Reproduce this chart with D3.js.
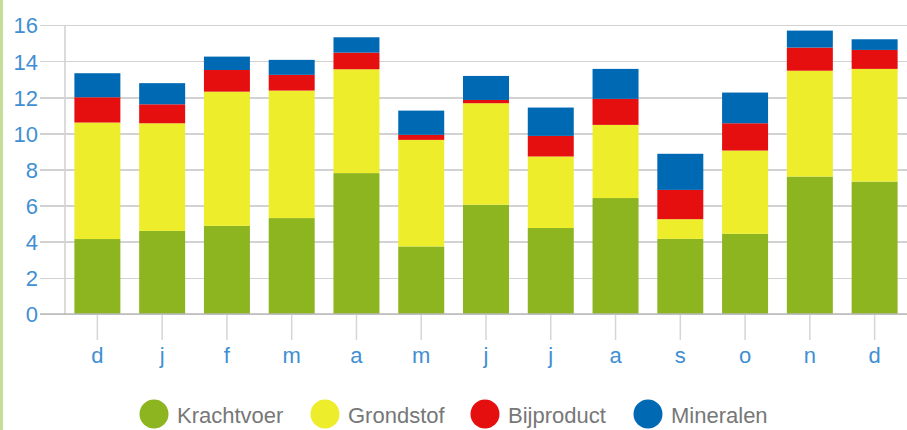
<!DOCTYPE html>
<meta charset="utf-8">
<script src="https://cdn.jsdelivr.net/npm/d3@7"></script>
<style>
    body { margin: 0; background: #fff; }
    text { font-family: "Liberation Sans", Arial, sans-serif; }
    .grid line { stroke: #d2d2d2; stroke-width: 1.6; shape-rendering: crispEdges; }
    .grid path { display: none; }
    .ylab text, .xlab text { fill: #3f8fd2; font-size: 22px; }
    .xlab path { display: none; }
    .xlab line { stroke: #d6d6d6; stroke-width: 1.5; }
</style>
<body>
<div id="chart"></div>
<script>

    var months = ["d", "j", "f", "m", "a", "m", "j", "j", "a", "s", "o", "n", "d"]
    var krachtvoer = [4.15, 4.6, 4.88, 5.31, 7.8, 3.74, 6.05, 4.76, 6.42, 4.16, 4.44, 7.61, 7.33]
    var grondstof  = [6.45, 5.96, 7.43, 7.06, 5.75, 5.9, 5.62, 3.96, 4.05, 1.09, 4.61, 5.86, 6.24]
    var bijproduct = [1.4, 1.05, 1.2, 0.87, 0.92, 0.28, 0.18, 1.14, 1.44, 1.62, 1.51, 1.28, 1.05]
    var mineralen  = [1.33, 1.17, 0.74, 0.83, 0.85, 1.34, 1.33, 1.57, 1.66, 2.0, 1.7, 0.94, 0.59]
    var yTicks = [0, 2, 4, 6, 8, 10, 12, 14, 16]

    var seriesNames = ["Krachtvoer", "Grondstof", "Bijproduct", "Mineralen"]
    var colors = ["#8cb520", "#eded2b", "#e60f0f", "#0069b4"]

    var W = 907, H = 430
    var padL = 65, padR = 907, padT = 25, padB = 314

    // one row per month, keys = series
    var rows = months.map((m, i) => ({
        idx: i,
        Krachtvoer: krachtvoer[i],
        Grondstof: grondstof[i],
        Bijproduct: bijproduct[i],
        Mineralen: mineralen[i]
    }))
    var stacked = d3.stack().keys(seriesNames)(rows)

    var x = d3.scaleBand().domain(d3.range(months.length)).range([padL, padR]).paddingInner(0.29).paddingOuter(0.145)
    var y = d3.scaleLinear().domain([0, 16]).range([padB, padT])

    var svg = d3.select("#chart").append("svg").attr("width", W).attr("height", H)

    // green strip on the left edge
    svg.append("rect").attr("x", 0).attr("y", 0).attr("width", 3).attr("height", H).style("fill", "#c3de96")

    // horizontal gridlines
    svg.append("g").attr("class", "grid").attr("transform", "translate(" + padR + ",0)")
        .call(d3.axisLeft(y).tickValues(yTicks).tickSize(padR - 40).tickFormat(""))

    // y axis line
    svg.append("line").attr("x1", padL).attr("x2", padL).attr("y1", padT).attr("y2", padB)
        .style("stroke", "#d2d2d2").style("stroke-width", 1.6)

    // y labels
    var ylab = svg.append("g").attr("class", "ylab").attr("transform", "translate(38,0)")
        .call(d3.axisLeft(y).tickValues(yTicks).tickSize(0).tickPadding(0))
    ylab.select(".domain").remove()
    ylab.selectAll("text").attr("dy", "0.36em")

    // bars
    svg.append("g").selectAll("g").data(stacked).enter().append("g")
        .style("fill", (d, i) => colors[i])
        .selectAll("rect").data(d => d).enter().append("rect")
        .attr("x", d => x(d.data.idx))
        .attr("width", x.bandwidth())
        .attr("y", d => y(d[1]))
        .attr("height", d => y(d[0]) - y(d[1]))

    // zero line
    svg.append("line").attr("x1", 40).attr("x2", padR).attr("y1", y(0)).attr("y2", y(0))
        .style("stroke", "#b8b8b8").style("stroke-width", 1.6)

    // x axis
    var xlab = svg.append("g").attr("class", "xlab").attr("transform", "translate(0," + (padB + 1) + ")")
        .call(d3.axisBottom(x).tickFormat(i => months[i]).tickSize(25).tickPadding(7))

    // legend
    var legX = [154, 325, 485, 648]
    var leg = svg.append("g")
    seriesNames.forEach((name, i) => {
        leg.append("circle").attr("cx", legX[i]).attr("cy", 414).attr("r", 14.5).style("fill", colors[i])
        leg.append("text").attr("x", legX[i] + 23).attr("y", 423).text(name)
            .style("font-size", "22px").style("fill", "#777")
    })

</script>
</body>
</html>
